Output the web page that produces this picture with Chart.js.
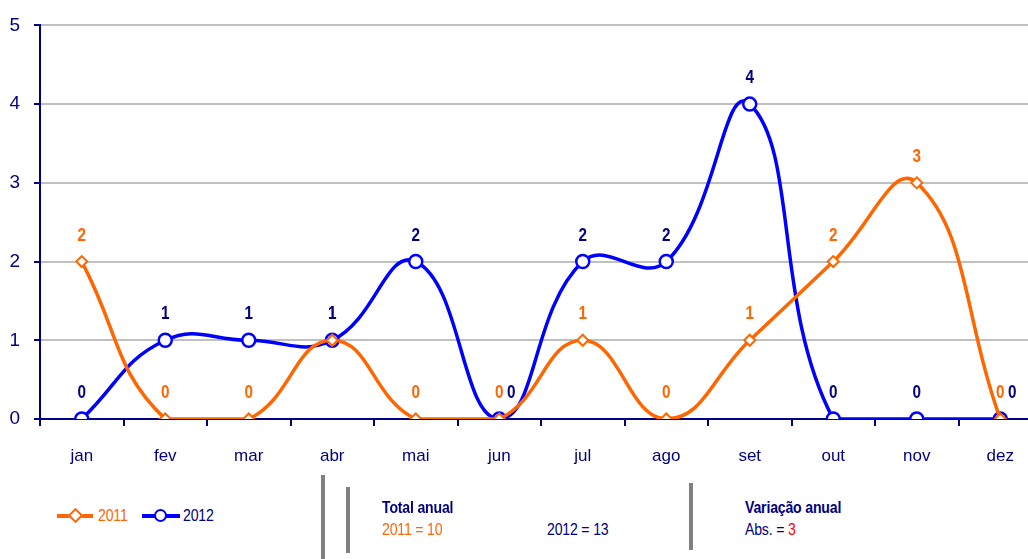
<!DOCTYPE html>
<html><head><meta charset="utf-8">
<script src="https://cdn.jsdelivr.net/npm/chart.js@4.4.1/dist/chart.umd.min.js"></script>
<style>
html,body{margin:0;padding:0;background:#fff;overflow:hidden;width:1028px;height:559px;}
#c{position:absolute;left:0;top:0;}
.t{position:absolute;font-family:"Liberation Sans",Arial,sans-serif;font-size:16px;white-space:nowrap;line-height:1;transform-origin:0 0;transform:scaleX(0.88);letter-spacing:-0.2px;}
.bar{position:absolute;width:4px;background:#808080;}
</style></head><body>
<canvas id="c" width="1051" height="480"></canvas>
<div class="bar" style="left:321px;top:475px;height:84px;"></div>
<div class="bar" style="left:346px;top:487px;height:66px;"></div>
<div class="bar" style="left:689px;top:483px;height:67px;"></div>
<div class="t" style="left:382px;top:500px;color:#000080;font-weight:bold;">Total anual</div>
<div class="t" style="left:382px;top:522px;color:#FF6600;">2011 = 10</div>
<div class="t" style="left:547px;top:522px;color:#000080;">2012 = 13</div>
<div class="t" style="left:745px;top:500px;color:#000080;font-weight:bold;">Variação anual</div>
<div class="t" style="left:745px;top:522px;color:#000080;">Abs. = <span style="color:#FF0000">3</span></div>
<script>
const categories = ["jan","fev","mar","abr","mai","jun","jul","ago","set","out","nov","dez"];
const values2011 = [2,0,0,1,0,0,1,0,1,2,3,0];
const values2012 = [0,1,1,1,2,0,2,2,4,0,0,0];
const yTicks = [0,1,2,3,4,5];
const seriesNames = ["2011","2012"];

const FONT = '"Liberation Sans",Arial,sans-serif';
const ORANGE = '#FF6600', BLUE = '#0000FF', NAVY = '#000080';

const labelPlugin = {
  id: 'labels',
  afterDatasetsDraw(chart) {
    const ctx = chart.ctx;
    const draw = (txt, x, y, color) => {
      ctx.save();
      ctx.translate(x, y);
      ctx.scale(0.85, 1);
      ctx.font = 'bold 18px ' + FONT;
      ctx.textAlign = 'center';
      ctx.textBaseline = 'middle';
      ctx.fillStyle = color;
      ctx.fillText(txt, 0, 0);
      ctx.restore();
    };
    const m0 = chart.getDatasetMeta(0).data, m1 = chart.getDatasetMeta(1).data;
    m0.forEach((p, i) => draw(String(values2011[i]), p.x, p.y - 26, ORANGE));
    m1.forEach((p, i) => {
      const dx = (values2011[i] === values2012[i] && values2012[i] === 0) ? 12 : 0;
      draw(String(values2012[i]), p.x + dx, p.y - 26, NAVY);
    });
  }
};

new Chart(document.getElementById('c'), {
  type: 'line',
  data: {
    labels: categories,
    datasets: [
      {label: seriesNames[0], data: values2011, borderColor: ORANGE, borderWidth: 3.5, tension: 0.45,
       pointStyle: 'rectRot', pointRadius: 5.5, pointBorderWidth: 2, pointBackgroundColor: '#fff', pointBorderColor: ORANGE},
      {label: seriesNames[1], data: values2012, borderColor: BLUE, borderWidth: 3.5, tension: 0.45,
       pointStyle: 'circle', pointRadius: 6.5, pointBorderWidth: 2.5, pointBackgroundColor: '#fff', pointBorderColor: BLUE}
    ]
  },
  options: {
    responsive: false, maintainAspectRatio: false, animation: false,
    layout: {padding: {top: 22, right: 0, left: 0, bottom: 0}},
    plugins: {legend: {display: false}, tooltip: {enabled: false}},
    scales: {
      x: {
        offset: true,
        afterFit(s) { s.height = 61; },
        grid: {offset: true, drawOnChartArea: false, drawTicks: true, tickLength: 7, tickColor: NAVY, lineWidth: 2},
        border: {color: NAVY, width: 2},
        ticks: {color: NAVY, font: {family: FONT, size: 17}, padding: 20}
      },
      y: {
        min: 0, max: 5,
        afterFit(s) { s.width = 40; },
        afterBuildTicks(s) { s.ticks = yTicks.map(v => ({value: v})); },
        grid: {color: ctx => ctx.tick && ctx.tick.value === 0 ? 'rgba(0,0,0,0)' : '#C0C0C0', lineWidth: 2,
               tickColor: NAVY, tickLength: 6},
        border: {color: NAVY, width: 2},
        ticks: {color: NAVY, font: {family: FONT, size: 19}, padding: 14}
      }
    }
  },
  plugins: [labelPlugin]
});
</script>
<div style="position:absolute;left:57px;top:514px;width:36px;height:3.5px;background:#FF6600;"></div>
<div style="position:absolute;left:70px;top:510px;width:7px;height:7px;border:2px solid #FF6600;background:#fff;transform:rotate(45deg);"></div>
<div class="t" style="left:98px;top:508px;color:#FF6600;">2011</div>
<div style="position:absolute;left:142px;top:514px;width:38px;height:3.5px;background:#0000FF;"></div>
<div style="position:absolute;left:154px;top:509px;width:9px;height:9px;border:2.5px solid #0000FF;border-radius:50%;background:#fff;"></div>
<div class="t" style="left:183px;top:508px;color:#000080;">2012</div>
</body></html>
